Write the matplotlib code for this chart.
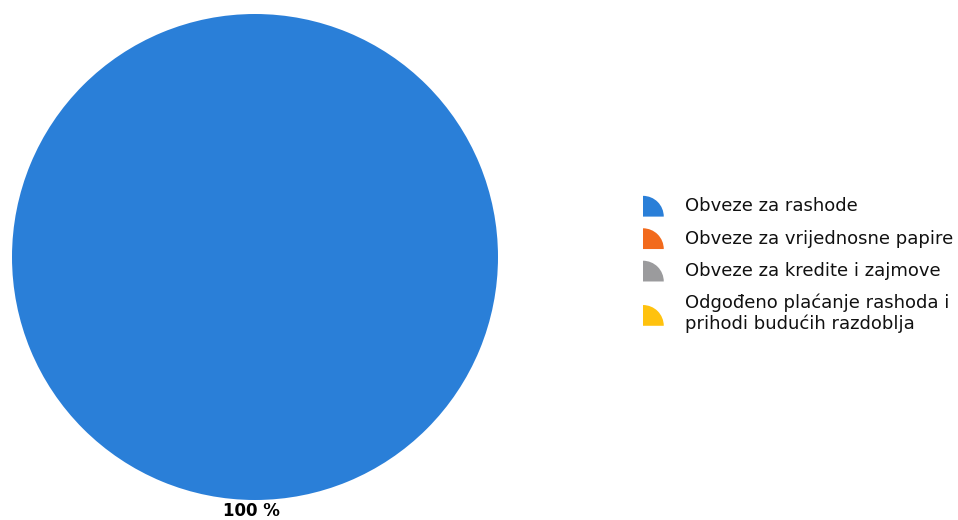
import matplotlib
matplotlib.use('Agg')
import matplotlib.pyplot as plt
from matplotlib.patches import Patch, Wedge
from matplotlib.legend_handler import HandlerBase

# shares of liabilities (%)
categories = ['Obveze za rashode',
              'Obveze za vrijednosne papire',
              'Obveze za kredite i zajmove',
              'Odgođeno plaćanje rashoda i\nprihodi budućih razdoblja']
values = [100, 0, 0, 0]
colors = ['#2a7fd8', '#f26a1c', '#9b9b9d', '#ffc20e']
pct_labels = ['100 %', '', '', '']


class QuarterHandler(HandlerBase):
    # legend key drawn as a quarter of a pie
    def create_artists(self, legend, orig_handle, xdescent, ydescent,
                       width, height, fontsize, trans):
        r = width
        w = Wedge((-xdescent, -ydescent - 0.15 * height), r, 0, 90,
                  facecolor=orig_handle.get_facecolor(), edgecolor='none',
                  transform=trans)
        return [w]


fig = plt.figure(figsize=(9.58, 5.2), dpi=100)
ax = fig.add_axes([12/958, 20/520, 486/958, 486/520])

wedges, _ = ax.pie(values, colors=colors, startangle=90, counterclock=False,
                   radius=1, wedgeprops=dict(linewidth=0))
ax.set_xlim(-1, 1)
ax.set_ylim(-1, 1)
ax.set_aspect('equal')
ax.axis('off')

for v, lab in zip(values, pct_labels):
    if v > 0:
        ax.text(-0.016, -1.045, lab, ha='center', va='center', fontsize=12,
                fontweight='bold', clip_on=False)

handles = [Patch(facecolor=c) for c in colors]
leg = fig.legend(handles, categories, loc='upper left',
                 bbox_to_anchor=(643/958, 1 - 196/520),
                 frameon=False, fontsize=13,
                 handler_map={Patch: QuarterHandler()},
                 handlelength=1.15, handleheight=1.15, handletextpad=1.2,
                 labelspacing=0.74, borderpad=0, borderaxespad=0)
for t in leg.get_texts():
    t.set_color('#111111')

fig.savefig('out.png', dpi=100)
